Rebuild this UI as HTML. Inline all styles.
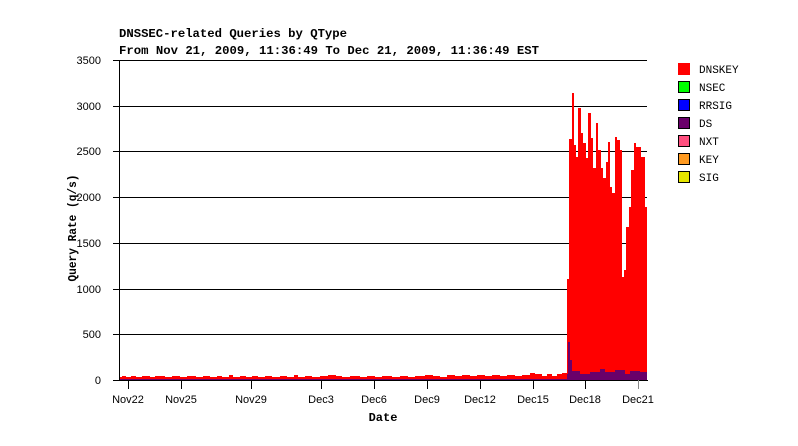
<!DOCTYPE html>
<html><head><style>body{margin:0;background:#fff}svg{display:block}</style></head><body>
<svg width="798" height="446" xmlns="http://www.w3.org/2000/svg" font-family="Liberation Sans, sans-serif">
<rect width="798" height="446" fill="#fff"/>
<text x="119" y="37" font-family="Liberation Mono, monospace" font-weight="bold" font-size="12" textLength="228" lengthAdjust="spacingAndGlyphs">DNSSEC-related Queries by QType</text>
<text x="119" y="54" font-family="Liberation Mono, monospace" font-weight="bold" font-size="12" textLength="420" lengthAdjust="spacingAndGlyphs">From Nov 21, 2009, 11:36:49 To Dec 21, 2009, 11:36:49 EST</text>
<g stroke="#000" stroke-width="1">
<line x1="113" y1="60.5" x2="647" y2="60.5"/>
<line x1="113" y1="106.5" x2="647" y2="106.5"/>
<line x1="113" y1="151.5" x2="647" y2="151.5"/>
<line x1="113" y1="197.5" x2="647" y2="197.5"/>
<line x1="113" y1="243.5" x2="647" y2="243.5"/>
<line x1="113" y1="289.5" x2="647" y2="289.5"/>
<line x1="113" y1="334.5" x2="647" y2="334.5"/>
</g>
<g font-size="11" text-anchor="end" fill="#000">
<text x="101" y="64">3500</text><text x="101" y="110">3000</text><text x="101" y="155">2500</text><text x="101" y="201">2000</text><text x="101" y="247">1500</text><text x="101" y="293">1000</text><text x="101" y="338">500</text><text x="101" y="384">0</text>
</g>
<polygon fill="#ff0000" points="119,380 119,377 122,377 122,376 126,376 126,377 131,377 131,376 136,376 136,377 142,377 142,376 150,376 150,377 155,377 155,376 165,376 165,377 172,377 172,376 180,376 180,377 187,377 187,376 196,376 196,377 203,377 203,376 210,376 210,377 217,377 217,376 222,376 222,377 229,377 229,375 233,375 233,377 240,377 240,376 246,376 246,377 252,377 252,376 258,376 258,377 265,377 265,376 272,376 272,377 280,377 280,376 287,376 287,377 294,377 294,375 298,375 298,377 305,377 305,376 312,376 312,377 320,377 320,376 328,376 328,375 336,375 336,376 342,376 342,377 350,377 350,376 360,376 360,377 367,377 367,376 375,376 375,377 382,377 382,376 392,376 392,377 400,377 400,376 408,376 408,377 415,377 415,376 425,376 425,375 433,375 433,376 440,376 440,377 447,377 447,375 455,375 455,376 462,376 462,375 470,375 470,376 477,376 477,375 485,375 485,376 492,376 492,375 500,375 500,376 507,376 507,375 515,375 515,376 522,376 522,375 530,375 530,373 535,373 535,374 542,374 542,376 547,376 547,374 552,374 552,376 557,376 557,374 562,374 562,373 567,373 567,279 569,279 569,139 572,139 572,93 574,93 574,145 576,145 576,157 578,157 578,108 581,108 581,133 583,133 583,143 586,143 586,158 588,158 588,113 591,113 591,138 593,138 593,168 596,168 596,123 598,123 598,150 601,150 601,168 603,168 603,178 606,178 606,162 608,162 608,142 610,142 610,187 612,187 612,193 615,193 615,137 617,137 617,140 620,140 620,150 622,150 622,277 624,277 624,270 626,270 626,227 629,227 629,207 631,207 631,170 634,170 634,143 636,143 636,147 638,147 638,147 641,147 641,157 643,157 643,157 645,157 645,207 647,207 647,380"/>
<polygon fill="#6a006a" points="119,380 119,379 567,379 567,374 568,374 568,342 570,342 570,360 572,360 572,371 580,371 580,374 590,374 590,372 600,372 600,369 605,369 605,372 615,372 615,370 625,370 625,374 630,374 630,371 640,371 640,372 647,372 647,380"/>
<line x1="119.5" y1="60" x2="119.5" y2="380" stroke="#000"/>
<line x1="113" y1="380.5" x2="648" y2="380.5" stroke="#000"/>
<g stroke="#000">
<line x1="128.5" y1="380" x2="128.5" y2="389"/><line x1="181.5" y1="380" x2="181.5" y2="389"/><line x1="251.5" y1="380" x2="251.5" y2="389"/><line x1="321.5" y1="380" x2="321.5" y2="389"/><line x1="374.5" y1="380" x2="374.5" y2="389"/><line x1="427.5" y1="380" x2="427.5" y2="389"/><line x1="480.5" y1="380" x2="480.5" y2="389"/><line x1="533.5" y1="380" x2="533.5" y2="389"/><line x1="585.5" y1="380" x2="585.5" y2="389"/><line x1="638.5" y1="380" x2="638.5" y2="389" stroke="#888"/>
</g>
<g font-size="11" text-anchor="middle">
<text x="128" y="403">Nov22</text><text x="181" y="403">Nov25</text><text x="251" y="403">Nov29</text><text x="321" y="403">Dec3</text><text x="374" y="403">Dec6</text><text x="427" y="403">Dec9</text><text x="480" y="403">Dec12</text><text x="533" y="403">Dec15</text><text x="585" y="403">Dec18</text><text x="638" y="403">Dec21</text>
</g>
<text x="383" y="421" font-family="Liberation Mono, monospace" font-weight="bold" font-size="12" text-anchor="middle">Date</text>
<text transform="translate(76,228) rotate(-90)" font-family="Liberation Mono, monospace" font-weight="bold" font-size="12" text-anchor="middle" textLength="107" lengthAdjust="spacingAndGlyphs">Query Rate (q/s)</text>
<g stroke="#000" stroke-width="1">
<rect x="678.5" y="63.5" width="11" height="11" fill="#ff0000" stroke="#ff0000"/>
<rect x="678.5" y="81.5" width="11" height="11" fill="#00ff00"/>
<rect x="678.5" y="99.5" width="11" height="11" fill="#0000ff"/>
<rect x="678.5" y="117.5" width="11" height="11" fill="#6a006a"/>
<rect x="678.5" y="135.5" width="11" height="11" fill="#ff4f7f"/>
<rect x="678.5" y="153.5" width="11" height="11" fill="#ff9a20"/>
<rect x="678.5" y="171.5" width="11" height="11" fill="#e6e600"/>
</g>
<g font-size="11" font-family="Liberation Mono, monospace">
<text x="699" y="73">DNSKEY</text><text x="699" y="91">NSEC</text><text x="699" y="109">RRSIG</text><text x="699" y="127">DS</text><text x="699" y="145">NXT</text><text x="699" y="163">KEY</text><text x="699" y="181">SIG</text>
</g>
</svg>
</body></html>
